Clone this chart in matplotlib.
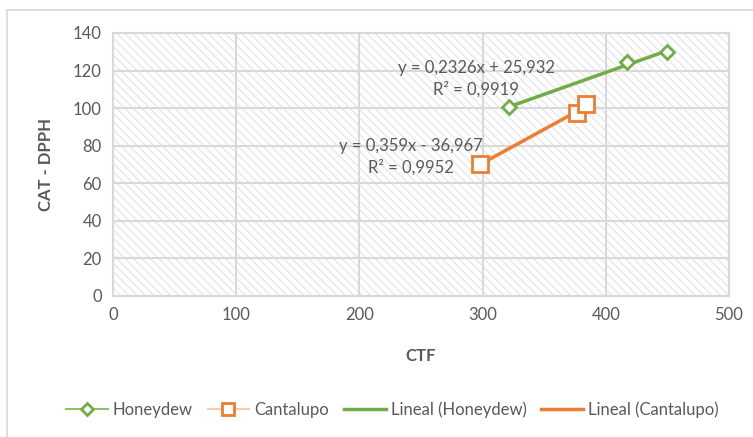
import numpy as np
import matplotlib.pyplot as plt
from matplotlib.lines import Line2D

plt.rcParams['font.family'] = ['Lato', 'DejaVu Sans']
plt.rcParams['hatch.color'] = '#e6e6e6'
plt.rcParams['hatch.linewidth'] = 0.9

# data: CTF vs CAT - DPPH
honeydew_x = [321.5, 417.0, 449.5]
honeydew_y = [100.6, 124.5, 129.9]
cantalupo_x = [298.0, 376.5, 384.0]
cantalupo_y = [70.2, 97.4, 102.2]

# linear fits (slope, intercept, R2)
fit_honeydew = (0.2326, 25.932, 0.9919)
fit_cantalupo = (0.359, -36.967, 0.9952)

green = '#70ad47'
orange = '#ed7d31'
grey_txt = '#595959'
grid_col = '#d9d9d9'

fig = plt.figure(figsize=(7.53, 4.37), dpi=100)
ax = fig.add_axes([0.150, 0.3227, 0.818, 0.6018])

# hatched plot area
ax.fill_between([0, 500], 0, 140, facecolor='white', edgecolor='#e6e6e6',
                hatch='\\\\\\\\', linewidth=0, zorder=0)

ax.set_xlim(0, 500)
ax.set_ylim(0, 140)
ax.set_xticks(np.arange(0, 501, 100))
ax.set_yticks(np.arange(0, 141, 20))
ax.grid(True, color=grid_col, linewidth=1.5, zorder=1)
ax.set_axisbelow(False)
for s in ax.spines.values():
    s.set_color(grid_col)
    s.set_linewidth(1.5)
ax.tick_params(length=0, labelsize=12, colors=grey_txt, pad=8)

# trend lines over data range
for xs, (m, b, r2), c in [(honeydew_x, fit_honeydew, green),
                          (cantalupo_x, fit_cantalupo, orange)]:
    xx = np.array([min(xs), max(xs)])
    ax.plot(xx, m * xx + b, color=c, linewidth=2.5, zorder=3)

ax.plot(honeydew_x, honeydew_y, linestyle='none', marker='D', markersize=7.5,
        markerfacecolor='white', markeredgecolor=green, markeredgewidth=2, zorder=4)
ax.plot(cantalupo_x, cantalupo_y, linestyle='none', marker='s', markersize=11,
        markerfacecolor='white', markeredgecolor=orange, markeredgewidth=2, zorder=4)

# equation labels
ax.text(295, 115.5, 'y = 0,2326x + 25,932\nR² = 0,9919', ha='center', va='center',
        fontsize=12, color=grey_txt, linespacing=1.35, zorder=5)
ax.text(242, 74, 'y = 0,359x - 36,967\nR² = 0,9952', ha='center', va='center',
        fontsize=12, color=grey_txt, linespacing=1.35, zorder=5)

ax.set_xlabel('CTF', fontsize=12, fontweight='bold', color=grey_txt, labelpad=18)
ax.set_ylabel('CAT - DPPH', fontsize=12, fontweight='bold', color=grey_txt, labelpad=14)

handles = [
    Line2D([], [], color='#8cc168', lw=1.5, marker='D', markersize=6,
           markerfacecolor='white', markeredgecolor=green, markeredgewidth=2),
    Line2D([], [], color='#f8cbad', lw=1.5, marker='s', markersize=8,
           markerfacecolor='white', markeredgecolor=orange, markeredgewidth=2),
    Line2D([], [], color=green, lw=2.5),
    Line2D([], [], color=orange, lw=2.5),
]
labels = ['Honeydew', 'Cantalupo', 'Lineal (Honeydew)', 'Lineal (Cantalupo)']
fig.legend(handles, labels, loc='center', bbox_to_anchor=(0.521, 0.062), ncol=4,
           frameon=False, fontsize=12, handlelength=2.5, handletextpad=0.3,
           columnspacing=0.9, labelcolor=grey_txt)

# chart frame
fig.add_artist(Line2D([7 / 753, 7 / 753], [0, 1 - 10 / 437], color=grid_col,
                      lw=1.2, transform=fig.transFigure))
fig.add_artist(Line2D([7 / 753, 1], [1 - 10 / 437, 1 - 10 / 437], color=grid_col,
                      lw=1.2, transform=fig.transFigure))

fig.savefig('out.png', dpi=100)
